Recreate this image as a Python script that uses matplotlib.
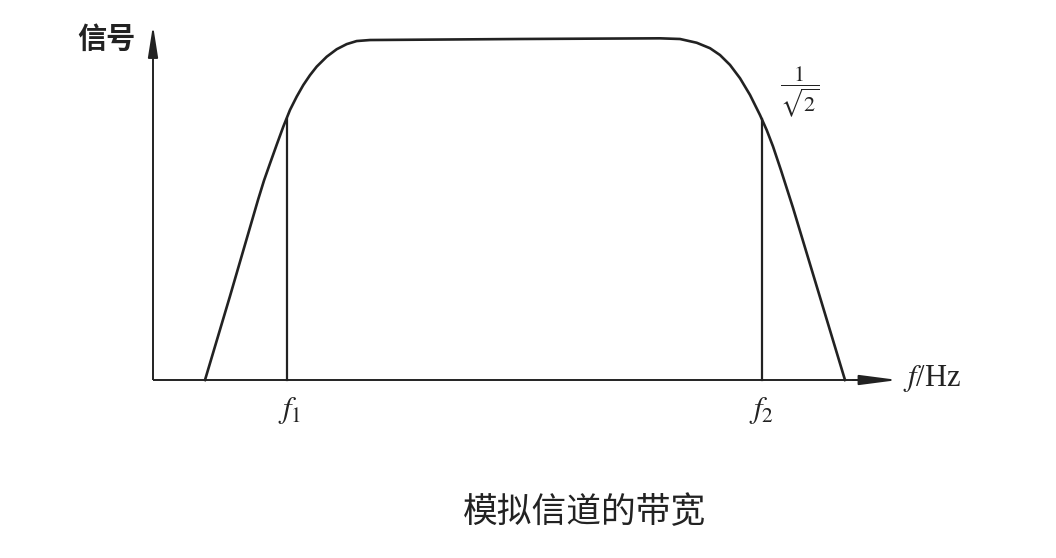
import matplotlib
matplotlib.use("Agg")
import matplotlib.pyplot as plt

# ---- data (frequency in arbitrary units, amplitude normalised) ----
freq = [0.52, 0.77, 1.05, 1.11, 1.17, 1.237, 1.303, 1.37, 1.437, 1.503, 1.57, 1.637, 1.737,
        1.837, 1.937, 2.037, 2.17, 3.67, 5.07, 5.27, 5.437, 5.57, 5.67, 5.77, 5.87,
        5.97, 6.07, 6.137, 6.20, 6.28, 6.40, 6.92]
amp = [0.0, 0.246, 0.528, 0.585, 0.635, 0.690, 0.743, 0.792, 0.831, 0.865, 0.894, 0.919, 0.948,
       0.970, 0.985, 0.994, 0.997, 1.0, 1.002, 1.0, 0.989, 0.973, 0.953, 0.924, 0.885,
       0.836, 0.777, 0.733, 0.685, 0.615, 0.505, 0.0]
f1, f2 = 1.34, 6.09
cut_level = 0.765

y_label = "信号"
x_label = "$f$/Hz"
tick_labels = ["$f_1$", "$f_2$"]
cut_label = r"$\dfrac{1}{\sqrt{2}}$"
title = "模拟信道的带宽"

plt.rcParams['mathtext.fontset'] = 'stix'
col = "#222222"

fig = plt.figure(figsize=(10.56, 5.58), dpi=100)
ax = fig.add_axes([0, 0, 1, 1])
ax.set_xlim(-1.53, 9.03)
ax.set_ylim(-(558 - 380) / 341, 380 / 341)
ax.axis("off")

# axes with arrows
ax.plot([0, 0], [0, 0.98], color=col, lw=1.4, solid_capstyle="butt")
ax.annotate("", xy=(0, 1.04), xytext=(0, 0.95),
            arrowprops=dict(arrowstyle="-|>,head_length=1.9,head_width=0.3",
                            mutation_scale=10, color=col, lw=1.4,
                            shrinkA=0, shrinkB=0))
ax.plot([0, 7.3], [0, 0], color=col, lw=1.4, solid_capstyle="butt")
ax.annotate("", xy=(7.45, 0), xytext=(7.0, 0),
            arrowprops=dict(arrowstyle="-|>,head_length=2.3,head_width=0.3",
                            mutation_scale=10, color=col, lw=1.4,
                            shrinkA=0, shrinkB=0))

# response curve
ax.plot(freq, amp, color=col, lw=1.9, solid_joinstyle="round", antialiased=True)
# cutoff lines
ax.plot([f1, f1], [0, cut_level], color=col, lw=1.6)
ax.plot([f2, f2], [0, cut_level], color=col, lw=1.6)

# texts
ax.text(-0.17, 1.0, y_label, ha="right", va="center", fontsize=21,
        family=["Noto Sans CJK SC", "DejaVu Sans"], color=col, fontweight="bold")
ax.text(7.50, 0.005, x_label, ha="left", va="center", fontsize=22,
        family="Liberation Serif", color=col)
ax.text(f1 + 0.03, -0.09, tick_labels[0], ha="center", va="center", fontsize=22, color=col)
ax.text(f2, -0.09, tick_labels[1], ha="center", va="center", fontsize=22, color=col)
ax.text(6.47, 0.845, cut_label, ha="center", va="center", fontsize=16, color=col)
ax.text(4.32, -0.39, title, ha="center", va="center", fontsize=25,
        family=["Noto Sans CJK SC", "DejaVu Sans"], color=col)

fig.savefig("out.png", dpi=100, facecolor="white")
